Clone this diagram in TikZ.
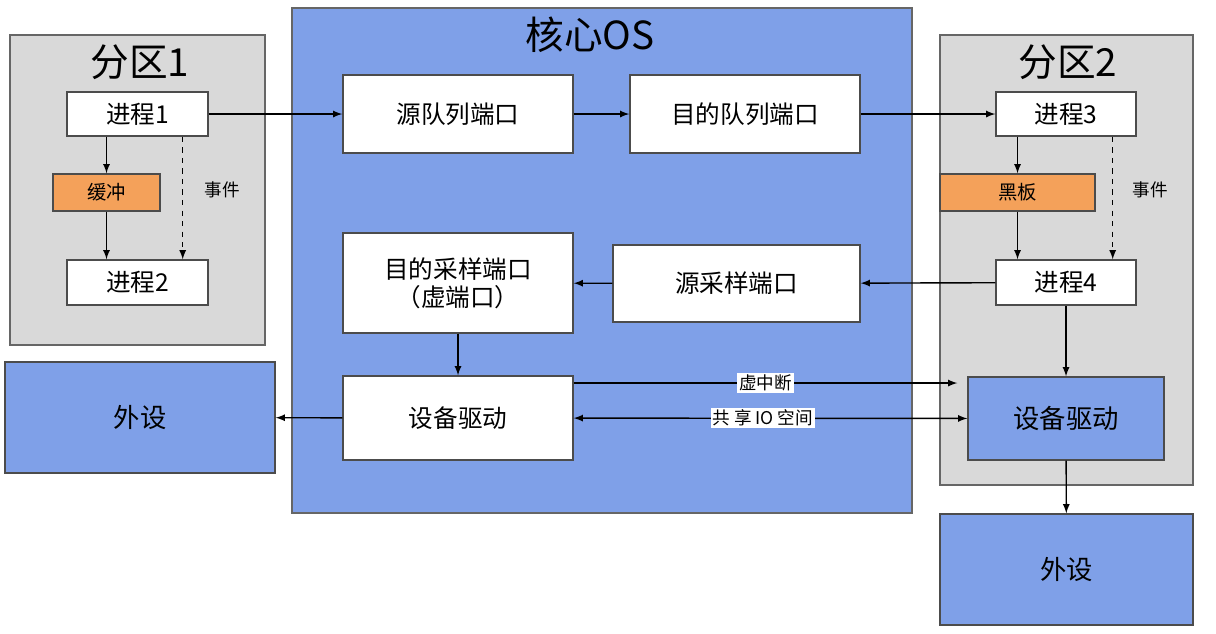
\documentclass[tikz,border=0pt]{standalone}
\usepackage{fontspec}
\setmainfont{Noto Sans CJK SC}
\usetikzlibrary{arrows, positioning}
\definecolor{osblue}{RGB}{127,160,232}
\definecolor{pgray}{RGB}{217,217,217}
\definecolor{borange}{RGB}{244,161,90}
\tikzset{
  sz/.style 2 args={minimum width=#1*0.02cm, minimum height=#2*0.02cm, inner sep=0pt},
  box/.style={draw=black!70, fill=white, font=\fontsize{14}{16}\selectfont, align=center},
  part/.style={draw=black!60, fill=pgray},
  dev/.style={draw=black!70, fill=osblue, font=\fontsize{15}{17}\selectfont},
  buffer/.style={draw=black!70, fill=borange, font=\fontsize{11}{13}\selectfont},
  title/.style={font=\fontsize{22}{24}\selectfont},
  lbl/.style={fill=white, inner sep=1pt, font=\fontsize{10}{12}\selectfont}
}
\begin{document}
\begin{tikzpicture}[>=latex, x={(0.02cm,0)}, y={(0,-0.02cm)}, thick]
\useasboundingbox (0,0) rectangle (1216,633);

% partitions and core
\node[part, sz={255}{310}] (part1) at (137.5,190) {};
\node[draw=black!60, fill=osblue, sz={620}{505}] (core) at (602,260.5) {};
\node[part, sz={253}{450}] (part2) at (1066.5,260) {};
\node[title] at (140,62) {分区1};
\node[title] at (590,35) {核心OS};
\node[title] at (1068,62) {分区2};

% partition 1
\node[box, sz={141}{44}] (p1) at (137.5,114) {进程1};
\node[buffer, sz={107}{37}] (buf) at (106.5,192.5) {缓冲};
\node[box, sz={141}{45}] (p2) at (137.5,282.5) {进程2};
\node[font=\fontsize{10}{12}\selectfont] (ev1) at (222,190) {事件};

% core OS
\node[box, sz={230}{78}] (srcq) at (458,114) {源队列端口};
\node[box, sz={230}{78}] (dstq) at (745,114) {目的队列端口};
\node[box, sz={230}{100}] (dsts) at (458,283) {目的采样端口\\（虚端口）};
\node[box, sz={247}{77}] (srcs) at (736.5,283.5) {源采样端口};
\node[box, sz={230}{84}] (drvos) at (458,418) {设备驱动};

% partition 2
\node[box, sz={140}{44}] (p3) at (1066,114) {进程3};
\node[buffer, sz={155}{37}] (board) at (1017.5,192.5) {黑板};
\node[box, sz={140}{45}] (p4) at (1066,282.5) {进程4};
\node[font=\fontsize{10}{12}\selectfont] (ev2) at (1150,190) {事件};
\node[dev, sz={196}{83}] (drvp) at (1066,418.5) {设备驱动};

% peripherals
\node[dev, sz={270}{111}] (devl) at (140,417.5) {外设};
\node[dev, sz={253}{111}] (devb) at (1066.5,569.5) {外设};

% connectors
\draw[->] (p1) -- (srcq);
\draw[->] (srcq) -- (dstq);
\draw[->] (dstq) -- (p3);
\draw[->] (p1.south -| buf) -- (buf);
\draw[->] (buf) -- (buf |- p2.north);
\draw[->, dashed] ([xshift=-0.52cm]p1.south east) -- ([xshift=-0.52cm]p2.north east);
\draw[->] (p3.south -| board) -- (board);
\draw[->] (board) -- (board |- p4.north);
\draw[->, dashed] ([xshift=-0.48cm]p3.south east) -- ([xshift=-0.48cm]p4.north east);
\draw[->] (p4) -- (srcs);
\draw[->] (srcs) -- (dsts);
\draw[->] (dsts) -- (drvos);
\draw[->] (drvos) -- (devl);
\draw[->] (p4) -- (drvp);
\draw[->] (drvp) -- (devb);
\coordinate (irq) at ([yshift=0.7cm]drvos.east);
\coordinate (irqend) at ([xshift=-0.2cm]drvp.west |- irq);
\draw[->] (irq) -- node[lbl] {虚中断} (irqend);
\draw[<->] (drvos) -- node[lbl, pos=0.48] {共 享 IO 空间} (drvp);
\end{tikzpicture}
\end{document}
